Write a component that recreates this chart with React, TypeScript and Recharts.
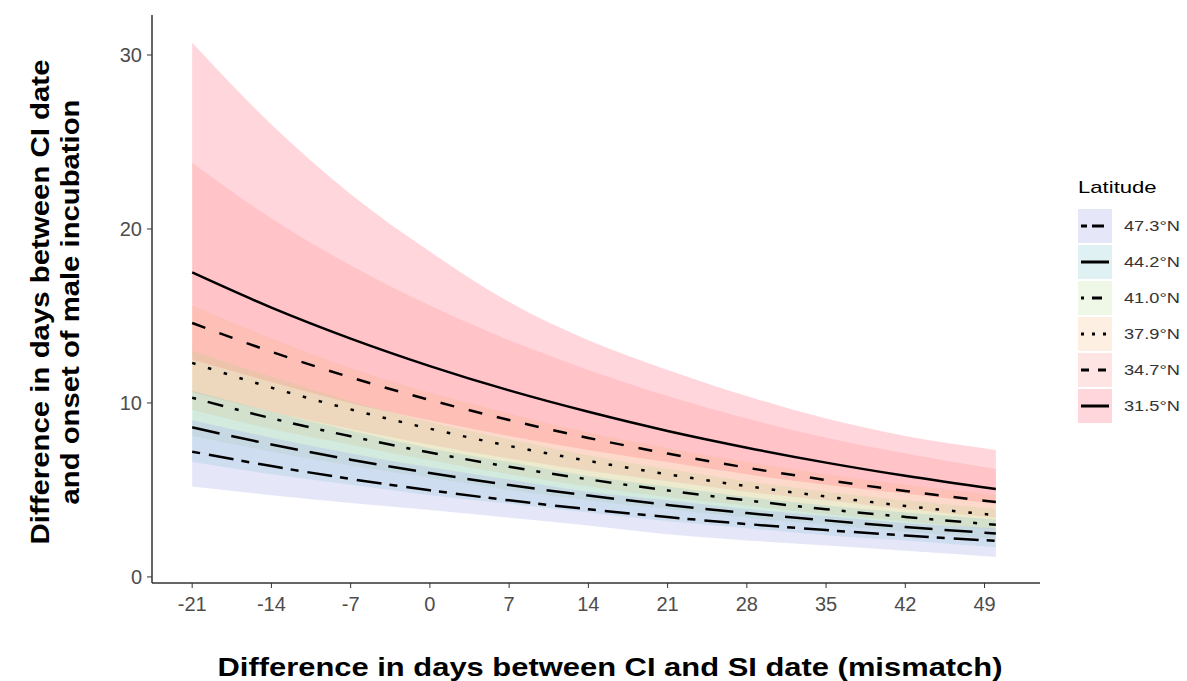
import React from "react";
import { Area, ComposedChart, Label, Line, XAxis, YAxis } from "recharts";

// days of mismatch (CI - SI)
const xDays = [-21, -14, -7, 0, 7, 14, 21, 28, 35, 42, 50];
const xTicks = [-21, -14, -7, 0, 7, 14, 21, 28, 35, 42, 49];
const yTicks = [0, 10, 20, 30];

// fitted lines per latitude
const fit315 = [17.5, 15.48, 13.7, 12.12, 10.72, 9.49, 8.39, 7.43, 6.57, 5.81, 5.05];
const fit347 = [14.6, 12.94, 11.47, 10.17, 9.02, 7.99, 7.09, 6.28, 5.57, 4.94, 4.3];
const fit379 = [12.3, 10.88, 9.63, 8.52, 7.53, 6.67, 5.9, 5.22, 4.62, 4.08, 3.55];
const fit410 = [10.3, 9.12, 8.08, 7.15, 6.33, 5.61, 4.97, 4.4, 3.89, 3.45, 3.0];
const fit442 = [8.6, 7.61, 6.74, 5.97, 5.28, 4.68, 4.14, 3.67, 3.25, 2.87, 2.5];
const fit473 = [7.2, 6.37, 5.63, 4.98, 4.4, 3.89, 3.44, 3.04, 2.69, 2.38, 2.07];

// confidence bands, upper
const up315 = [30.7, 26.0, 22.0, 18.7, 15.8, 13.6, 11.9, 10.4, 9.1, 8.1, 7.3];
const up347 = [23.8, 20.6, 17.9, 15.6, 13.6, 11.9, 10.4, 9.1, 8.0, 7.1, 6.2];
const up379 = [15.6, 13.7, 12.0, 10.6, 9.4, 8.3, 7.4, 6.6, 5.9, 5.3, 4.7];
const up410 = [13.0, 11.5, 10.1, 8.9, 7.9, 7.0, 6.2, 5.5, 4.9, 4.4, 3.9];
const up442 = [10.7, 9.5, 8.4, 7.4, 6.6, 5.8, 5.2, 4.6, 4.1, 3.7, 3.3];
const up473 = [9.0, 8.0, 7.1, 6.3, 5.6, 4.9, 4.4, 3.9, 3.5, 3.1, 2.8];

// confidence bands, lower
const lo315 = [12.5, 11.2, 10.0, 9.0, 8.1, 7.3, 6.6, 5.9, 5.3, 4.8, 4.2];
const lo347 = [10.6, 9.5, 8.5, 7.6, 6.8, 6.1, 5.5, 4.9, 4.4, 3.9, 3.4];
const lo379 = [9.6, 8.5, 7.6, 6.7, 5.9, 5.2, 4.6, 4.1, 3.6, 3.2, 2.7];
const lo410 = [8.1, 7.2, 6.4, 5.7, 5.0, 4.4, 3.9, 3.4, 3.0, 2.6, 2.2];
const lo442 = [6.6, 5.9, 5.3, 4.7, 4.2, 3.7, 3.2, 2.8, 2.4, 2.1, 1.7];
const lo473 = [5.2, 4.7, 4.25, 3.85, 3.4, 2.95, 2.45, 2.1, 1.8, 1.5, 1.15];

const series = [
  { key: "l315", name: "31.5°N", fit: fit315, lo: lo315, up: up315, color: "#ff5a73", op: 0.25, dash: undefined },
  { key: "l347", name: "34.7°N", fit: fit347, lo: lo347, up: up347, color: "#ff7a7a", op: 0.2, dash: "14 15" },
  { key: "l379", name: "37.9°N", fit: fit379, lo: lo379, up: up379, color: "#f7b070", op: 0.2, dash: "3.5 13" },
  { key: "l410", name: "41.0°N", fit: fit410, lo: lo410, up: up410, color: "#b0d880", op: 0.2, dash: "4 12 16 12" },
  { key: "l442", name: "44.2°N", fit: fit442, lo: lo442, up: up442, color: "#70c0c8", op: 0.22, dash: "28 12" },
  { key: "l473", name: "47.3°N", fit: fit473, lo: lo473, up: up473, color: "#a8b0ea", op: 0.3, dash: "8 9 25 8" },
];

const data = xDays.map((x, i) => {
  const row: any = { x };
  series.forEach((s) => {
    row[s.key] = s.fit[i];
    row[s.key + "band"] = [s.lo[i], s.up[i]];
  });
  return row;
});

const font = "'Liberation Sans', Arial, sans-serif";

function LegendBox() {
  const keyDash: Record<string, string | undefined> = {
    l315: undefined,
    l347: "8 9",
    l379: "3 8",
    l410: "3 8 10 8",
    l442: "28 0",
    l473: "6 5 12 5",
  };
  return (
    <div style={{ position: "absolute", left: 1078, top: 178, fontFamily: font }}>
      <div
        style={{
          fontSize: 17,
          color: "#000",
          marginBottom: 10,
          transform: "scaleX(1.3)",
          transformOrigin: "left center",
        }}
      >
        Latitude
      </div>
      {[...series].reverse().map((s) => (
        <div key={s.key} style={{ display: "flex", alignItems: "center", height: 36 }}>
          <svg width={34} height={34}>
            <rect x={0} y={0} width={34} height={34} fill={s.color} fillOpacity={s.op} />
            <line
              x1={3}
              x2={31}
              y1={17}
              y2={17}
              stroke="#000"
              strokeWidth={3}
              strokeDasharray={keyDash[s.key]}
            />
          </svg>
          <span
            style={{
              fontSize: 14,
              color: "#333",
              marginLeft: 12,
              display: "inline-block",
              transform: "scaleX(1.3)",
              transformOrigin: "left center",
            }}
          >
            {s.name}
          </span>
        </div>
      ))}
    </div>
  );
}

export default function App() {
  return (
    <div style={{ position: "absolute", left: 0, top: 0, width: 1187, height: 681, background: "#fff" }}>
      <ComposedChart
        width={1187}
        height={681}
        data={data}
        margin={{ top: 15, left: 112, right: 147, bottom: 58 }}
      >
        <XAxis
          dataKey="x"
          type="number"
          domain={[-24.55, 53.9]}
          ticks={xTicks}
          height={40}
          tick={{ fill: "#4d4d4d", fontSize: 20, fontFamily: font }}
          tickLine={{ stroke: "#333" }}
          axisLine={{ stroke: "#333", strokeWidth: 1.5 }}
          tickSize={5}
          tickMargin={9}
          allowDataOverflow
        >
          <Label
            content={() => (
              <text
                x={610}
                y={676}
                textAnchor="middle"
                fontFamily={font}
                fontWeight="bold"
                fontSize={26}
                fill="#000"
                textLength={785}
                lengthAdjust="spacingAndGlyphs"
              >
                Difference in days between CI and SI date (mismatch)
              </text>
            )}
          />
        </XAxis>
        <YAxis
          type="number"
          domain={[-0.35, 32.3]}
          ticks={yTicks}
          width={40}
          tick={{ fill: "#4d4d4d", fontSize: 20, fontFamily: font }}
          tickLine={{ stroke: "#333" }}
          axisLine={{ stroke: "#333", strokeWidth: 1.5 }}
          tickSize={5}
          tickMargin={5}
          allowDataOverflow
        >
          <Label
            content={() => (
              <text
                transform="translate(0,302) rotate(-90)"
                textAnchor="middle"
                fontFamily={font}
                fontWeight="bold"
                fontSize={26}
                fill="#000"
              >
                <tspan x={0} y={49} textLength={485} lengthAdjust="spacingAndGlyphs">
                  Difference in days between CI date
                </tspan>
                <tspan x={0} y={79} textLength={405} lengthAdjust="spacingAndGlyphs">
                  and onset of male incubation
                </tspan>
              </text>
            )}
          />
        </YAxis>
        {series.map((s) => (
          <Area
            key={s.key + "band"}
            dataKey={s.key + "band"}
            type="monotone"
            stroke="none"
            fill={s.color}
            fillOpacity={s.op}
            isAnimationActive={false}
            activeDot={false}
          />
        ))}
        {series.map((s) => (
          <Line
            key={s.key}
            dataKey={s.key}
            type="monotone"
            stroke="#000"
            strokeWidth={2.5}
            strokeDasharray={s.dash}
            dot={false}
            activeDot={false}
            isAnimationActive={false}
          />
        ))}
      </ComposedChart>
      <LegendBox />
    </div>
  );
}
